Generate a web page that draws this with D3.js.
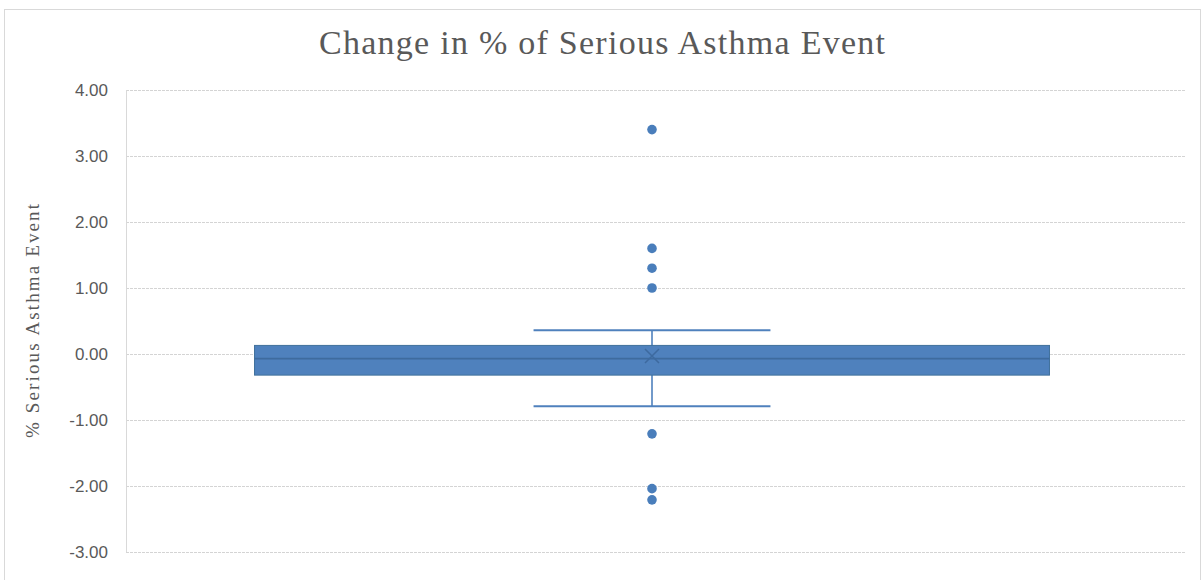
<!DOCTYPE html>
<html>
<head>
<meta charset="utf-8">
<script src="https://cdn.jsdelivr.net/npm/d3@7"></script>
<style>
  html, body { margin: 0; padding: 0; background: #ffffff; }
  svg { display: block; }
</style>
</head>
<body>
<svg id="chart" width="1202" height="580"></svg>
<script>
// Box-and-whisker summary for the change in % of serious asthma events
const categories = ["All"];
const whiskerLow = [-0.79];
const quartile1 = [-0.32];
const median = [-0.07];
const quartile3 = [0.13];
const whiskerHigh = [0.36];
const mean = [-0.03];
const outliers = [3.40, 1.60, 1.30, 1.00, -1.21, -2.04, -2.21];
const yTicks = [4, 3, 2, 1, 0, -1, -2, -3];

const svg = d3.select("#chart");
const W = 1202, H = 580;
const plot = { left: 126, right: 1186, top: 90, bottom: 552 };

// chart frame
svg.append("rect")
  .attr("x", 4.5).attr("y", 9.5)
  .attr("width", W - 6).attr("height", H)
  .attr("fill", "#ffffff")
  .attr("stroke", "#d9d9d9").attr("stroke-width", 1);

const y = d3.scaleLinear().domain([-3, 4]).range([plot.bottom, plot.top]);
const x = d3.scaleBand().domain(categories)
  .range([plot.left - 4, plot.right - 4])
  .paddingInner(0).paddingOuter(0.1667);

// plain hyphen-minus, two decimals
const fmt = d => d3.format(".2f")(d).replace("\u2212", "-");

// horizontal gridlines and tick labels
const yAxis = d3.axisLeft(y)
  .tickValues(yTicks)
  .tickSize(-(plot.right - plot.left))
  .tickPadding(18)
  .tickFormat(fmt);

const gy = svg.append("g")
  .attr("transform", `translate(${plot.left},0)`)
  .call(yAxis);
gy.select(".domain").remove();
gy.selectAll(".tick line")
  .attr("stroke", "#d4d4d4")
  .attr("stroke-width", 1)
  .attr("stroke-dasharray", "3,1");
gy.selectAll(".tick text")
  .attr("fill", "#595959")
  .style("font-family", "'Liberation Sans', Arial, sans-serif")
  .style("font-size", "17px");

// vertical axis line
svg.append("line")
  .attr("x1", plot.left + 0.5).attr("x2", plot.left + 0.5)
  .attr("y1", plot.top).attr("y2", plot.bottom)
  .attr("stroke", "#d9d9d9").attr("stroke-width", 1);

const boxColor = "#4f81bd";
const edgeColor = "#41719c";

const g = svg.append("g");
categories.forEach((c, i) => {
  const x0 = x(c), bw = x.bandwidth(), cx = x0 + bw / 2;
  const capHalf = bw * 0.149;

  // whisker stem
  g.append("line")
    .attr("x1", cx).attr("x2", cx)
    .attr("y1", y(whiskerHigh[i])).attr("y2", y(whiskerLow[i]))
    .attr("stroke", boxColor).attr("stroke-width", 1.6);

  // whisker caps
  [whiskerHigh[i], whiskerLow[i]].forEach(v => {
    g.append("line")
      .attr("x1", cx - capHalf).attr("x2", cx + capHalf)
      .attr("y1", y(v)).attr("y2", y(v))
      .attr("stroke", boxColor).attr("stroke-width", 2);
  });

  // interquartile box
  g.append("rect")
    .attr("x", x0).attr("y", y(quartile3[i]))
    .attr("width", bw)
    .attr("height", y(quartile1[i]) - y(quartile3[i]))
    .attr("fill", boxColor)
    .attr("stroke", edgeColor).attr("stroke-width", 1);

  // median
  g.append("line")
    .attr("x1", x0).attr("x2", x0 + bw)
    .attr("y1", y(median[i])).attr("y2", y(median[i]))
    .attr("stroke", "#3e6b9e").attr("stroke-width", 1.6);

  // mean marker
  const my = y(mean[i]), s = 7;
  g.append("path")
    .attr("d", `M${cx - s},${my - s}L${cx + s},${my + s}M${cx - s},${my + s}L${cx + s},${my - s}`)
    .attr("stroke", "#3d6a9f").attr("stroke-width", 1.5).attr("fill", "none");

  // outlier points
  g.selectAll("circle.outlier")
    .data(outliers)
    .enter().append("circle")
    .attr("class", "outlier")
    .attr("cx", cx).attr("cy", d => y(d))
    .attr("r", 4.8)
    .attr("fill", "#4a7ebb");
});

// title
svg.append("text")
  .attr("x", 602).attr("y", 54)
  .attr("text-anchor", "middle")
  .attr("fill", "#595959")
  .attr("textLength", 566).attr("lengthAdjust", "spacing")
  .style("font-family", "'Liberation Serif', 'DejaVu Serif', serif")
  .style("font-size", "34px")
  .text("Change in % of Serious Asthma Event");

// y-axis title
svg.append("text")
  .attr("transform", `translate(39,${(plot.top + plot.bottom) / 2}) rotate(-90)`)
  .attr("text-anchor", "middle")
  .attr("fill", "#595959")
  .attr("textLength", 234).attr("lengthAdjust", "spacing")
  .style("font-family", "'Liberation Serif', 'DejaVu Serif', serif")
  .style("font-size", "19px")
  .text("% Serious Asthma Event");
</script>
</body>
</html>
